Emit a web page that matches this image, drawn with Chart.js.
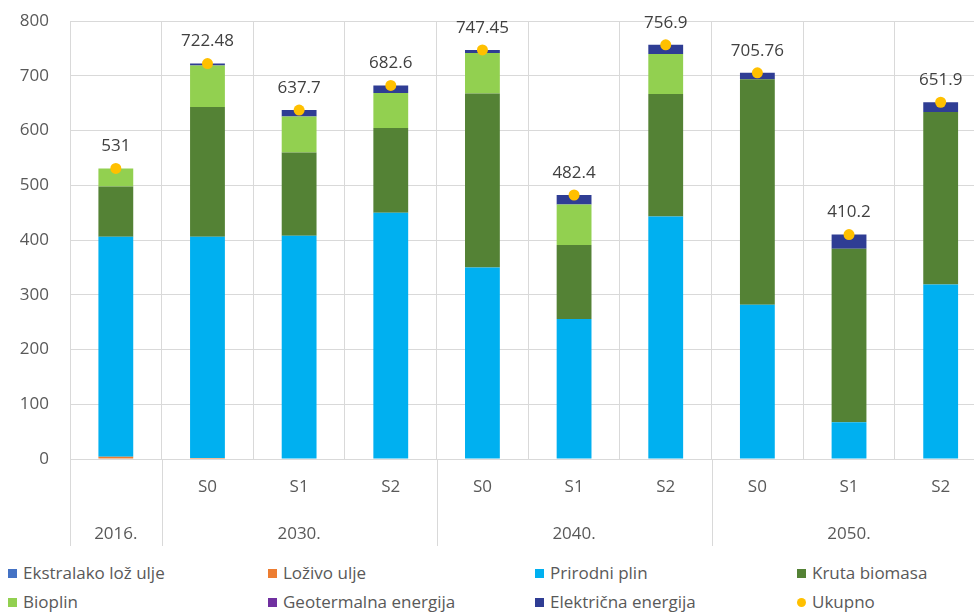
<!DOCTYPE html>
<html>
<head>
<meta charset="utf-8">
<script src="https://cdn.jsdelivr.net/npm/chart.js@4.4.1/dist/chart.umd.min.js"></script>
<style>
  html, body { margin: 0; padding: 0; background: #fff; overflow: hidden; }
  #wrap { position: absolute; left: 0; top: -10px; width: 992px; height: 570px; }
  .legend-item { position: absolute; font: 17px 'Open Sans', sans-serif; color: #595959; white-space: nowrap; line-height: 20px; }
  .legend-item i { display: inline-block; width: 9px; height: 9px; margin-right: 6px; vertical-align: 1px; }
</style>
</head>
<body>
<div id="wrap"><canvas id="chart"></canvas></div>
<div id="legend"></div>
<script>
// Data
const SUB_LABELS = ['', 'S0', 'S1', 'S2', 'S0', 'S1', 'S2', 'S0', 'S1', 'S2'];
const YEARS = ['2016.', '2030.', '2040.', '2050.'];
const GROUP_SIZES = [1, 3, 3, 3];

const EKSTRALAKO = [0, 0, 0, 0, 0, 0, 0, 0, 0, 0];
const LOZIVO = [4, 2, 0, 0, 0, 0, 0, 0, 0, 0];
const PRIRODNI_PLIN = [402, 404, 408, 450, 350, 256, 443, 282, 67, 319];
const KRUTA_BIOMASA = [92, 237, 152, 155, 318, 135, 224, 412, 317, 315];
const BIOPLIN = [33, 76, 66, 64, 74, 74, 73, 0, 0, 0];
const GEOTERMALNA = [0, 0, 0, 0, 0, 0, 0, 0, 0, 0];
const ELEKTRICNA = [0, 3.48, 11.7, 13.6, 5.45, 17.4, 16.9, 11.76, 26.2, 17.9];
const UKUPNO = [531, 722.48, 637.7, 682.6, 747.45, 482.4, 756.9, 705.76, 410.2, 651.9];

const Y_MIN = 0;
const Y_MAX = 800;
const Y_STEP = 100;

// Style
const TEXT_COLOR = '#595959';
const LABEL_COLOR = '#404040';
const GRID_COLOR = '#D9D9D9';
const FONT_FAMILY = "'Open Sans', sans-serif";
const FONT_SIZE = 17;

const barSeries = [
    { label: 'Ekstralako lož ulje', data: EKSTRALAKO, color: '#4472C4' },
    { label: 'Loživo ulje', data: LOZIVO, color: '#ED7D31' },
    { label: 'Prirodni plin', data: PRIRODNI_PLIN, color: '#00B0F0' },
    { label: 'Kruta biomasa', data: KRUTA_BIOMASA, color: '#548235' },
    { label: 'Bioplin', data: BIOPLIN, color: '#92D050' },
    { label: 'Geotermalna energija', data: GEOTERMALNA, color: '#7030A0' },
    { label: 'Električna energija', data: ELEKTRICNA, color: '#2F3D94' }
];
const TOTAL_COLOR = '#FFC000';

// Legend grid (4 columns, 2 rows)
const LEGEND_COLS = [8, 268, 535, 797];
const LEGEND_ROWS = [563, 592];

const datasets = barSeries.map(s => ({
    type: 'bar',
    label: s.label,
    data: s.data,
    backgroundColor: s.color,
    borderWidth: 0,
    stack: 'energy',
    order: 1,
    categoryPercentage: 1,
    barPercentage: 0.38
}));

datasets.push({
    type: 'line',
    label: 'Ukupno',
    data: UKUPNO,
    showLine: false,
    pointRadius: 5.5,
    pointBackgroundColor: TOTAL_COLOR,
    pointBorderColor: TOTAL_COLOR,
    pointBorderWidth: 0,
    stack: 'total',
    order: 0
});

// Plugin: year group labels, long dividers and total labels
const groupAxis = {
    id: 'groupAxis',
    afterDraw(chart) {
        const ctx = chart.ctx;
        const x = chart.scales.x;
        const area = chart.chartArea;
        const catWidth = x.width / SUB_LABELS.length;

        ctx.save();
        ctx.strokeStyle = GRID_COLOR;
        ctx.lineWidth = 1;
        let start = 0;
        const edges = [];
        GROUP_SIZES.forEach(size => {
            edges.push(x.getPixelForValue(start) - catWidth / 2);
            start += size;
        });
        edges.push(x.getPixelForValue(start - 1) + catWidth / 2);
        edges.forEach(px => {
            const p = Math.round(px) + 0.5;
            ctx.beginPath();
            ctx.moveTo(p, area.bottom);
            ctx.lineTo(p, area.bottom + 87);
            ctx.stroke();
        });

        ctx.fillStyle = TEXT_COLOR;
        ctx.font = `${FONT_SIZE}px ${FONT_FAMILY}`;
        ctx.textAlign = 'center';
        ctx.textBaseline = 'middle';
        start = 0;
        GROUP_SIZES.forEach((size, i) => {
            const mid = (x.getPixelForValue(start) + x.getPixelForValue(start + size - 1)) / 2;
            ctx.fillText(YEARS[i], mid, area.bottom + 75);
            start += size;
        });

        // total labels above the points
        const meta = chart.getDatasetMeta(chart.data.datasets.length - 1);
        ctx.fillStyle = LABEL_COLOR;
        meta.data.forEach((pt, i) => {
            ctx.fillText(String(UKUPNO[i]), pt.x, pt.y - 22);
        });
        ctx.restore();
    }
};

Chart.defaults.font.family = FONT_FAMILY;
Chart.defaults.font.size = FONT_SIZE;
Chart.defaults.color = TEXT_COLOR;

new Chart(document.getElementById('chart'), {
    type: 'bar',
    data: { labels: SUB_LABELS, datasets: datasets },
    options: {
        responsive: true,
        maintainAspectRatio: false,
        animation: false,
        layout: { padding: { top: 11, right: 3, left: 0, bottom: 0 } },
        plugins: {
            legend: { display: false },
            tooltip: { enabled: false }
        },
        scales: {
            x: {
                stacked: true,
                offset: true,
                grid: { offset: true, color: GRID_COLOR, drawTicks: false },
                border: { color: GRID_COLOR },
                ticks: { color: TEXT_COLOR, padding: 18, maxRotation: 0, autoSkip: false },
                afterFit(scale) { scale.height = 101; }
            },
            y: {
                stacked: true,
                min: Y_MIN,
                max: Y_MAX,
                grid: { color: GRID_COLOR, drawTicks: false },
                border: { display: false },
                ticks: { stepSize: Y_STEP, color: TEXT_COLOR, padding: 21 },
                afterFit(scale) { scale.width = 70; }
            }
        }
    },
    plugins: [groupAxis]
});

// HTML legend
const legend = document.getElementById('legend');
const legendEntries = barSeries.map(s => ({ label: s.label, color: s.color, round: false }));
legendEntries.push({ label: 'Ukupno', color: TOTAL_COLOR, round: true });
legendEntries.forEach((e, k) => {
    const div = document.createElement('div');
    div.className = 'legend-item';
    div.style.left = LEGEND_COLS[k % 4] + 'px';
    div.style.top = LEGEND_ROWS[Math.floor(k / 4)] + 'px';
    const mark = document.createElement('i');
    mark.style.background = e.color;
    if (e.round) mark.style.borderRadius = '50%';
    div.appendChild(mark);
    div.appendChild(document.createTextNode(e.label));
    legend.appendChild(div);
});
</script>
</body>
</html>
